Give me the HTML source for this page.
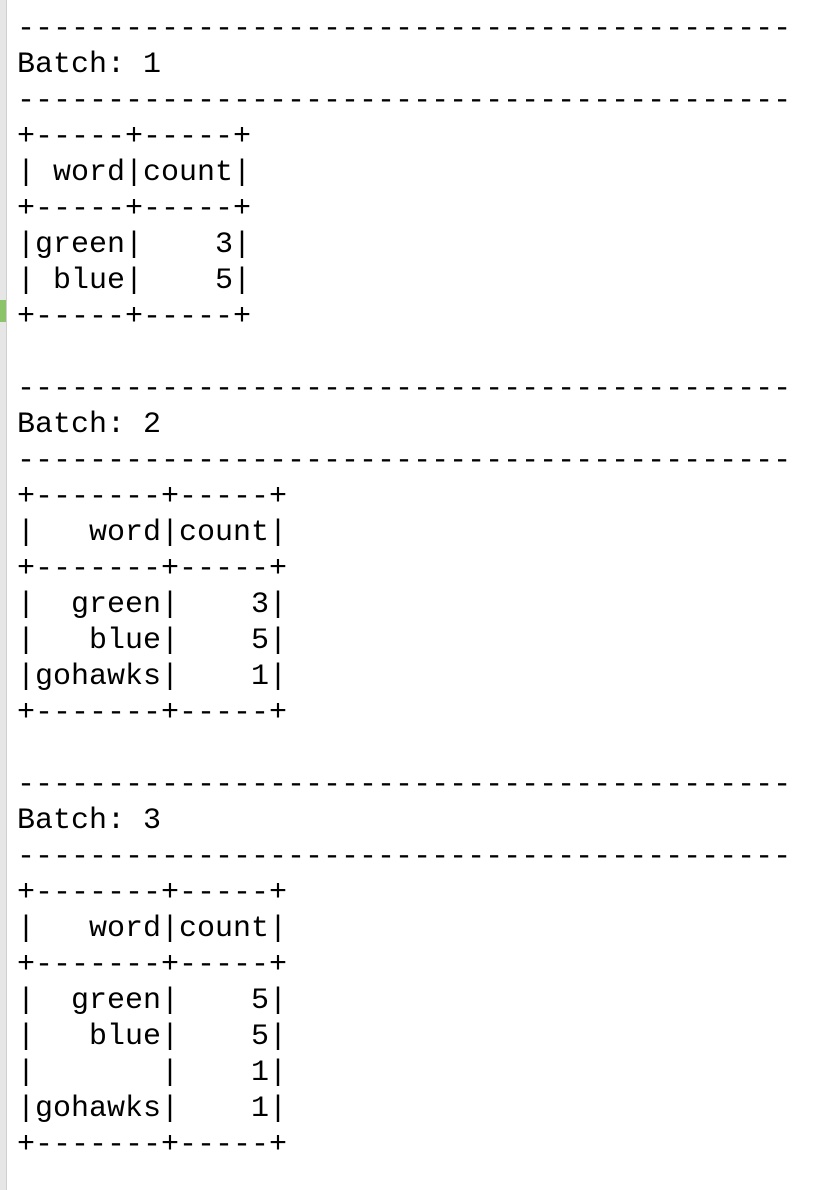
<!DOCTYPE html>
<html><head><meta charset="utf-8"><style>
html,body{margin:0;padding:0;background:#fff;width:816px;height:1190px;overflow:hidden;position:relative}
.strip{position:absolute;left:0;top:0;width:6px;height:1190px;background:#e6e6e6;border-right:1px solid #cfcfcf}
.mark{position:absolute;left:0;top:300px;width:6px;height:22px;background:#8bc36a}
pre{position:absolute;left:17px;top:11px;margin:0;font-family:"Liberation Mono",monospace;font-size:30px;line-height:36px;color:#000}
</style></head><body>
<div class="strip"></div><div class="mark"></div>
<pre>-------------------------------------------
Batch: 1
-------------------------------------------
+-----+-----+
| word|count|
+-----+-----+
|green|    3|
| blue|    5|
+-----+-----+

-------------------------------------------
Batch: 2
-------------------------------------------
+-------+-----+
|   word|count|
+-------+-----+
|  green|    3|
|   blue|    5|
|gohawks|    1|
+-------+-----+

-------------------------------------------
Batch: 3
-------------------------------------------
+-------+-----+
|   word|count|
+-------+-----+
|  green|    5|
|   blue|    5|
|       |    1|
|gohawks|    1|
+-------+-----+
</pre>
</body></html>
